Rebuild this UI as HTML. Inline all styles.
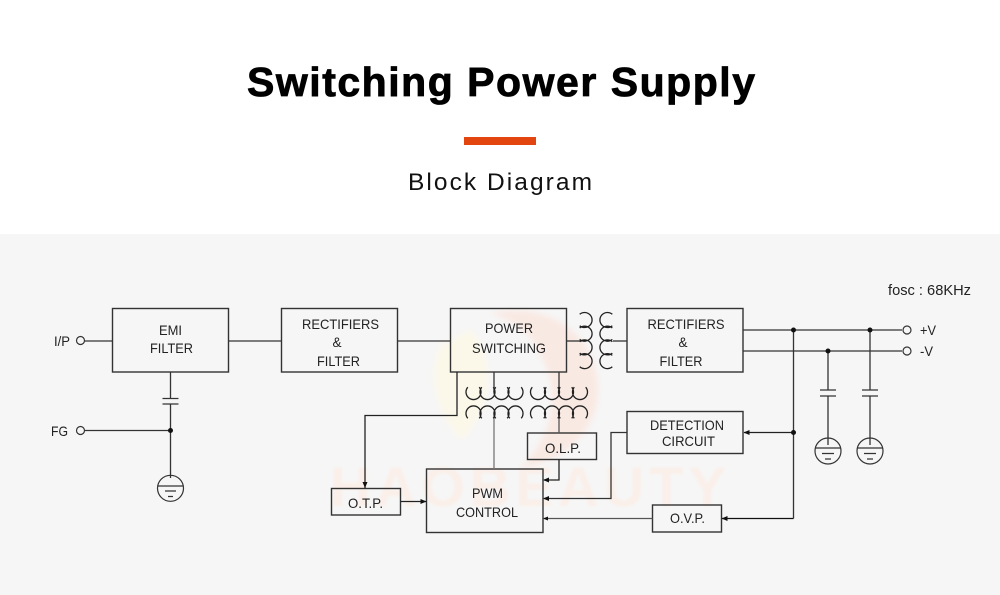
<!DOCTYPE html>
<html>
<head>
<meta charset="utf-8">
<style>
html,body{margin:0;padding:0;background:#fff}
svg{display:block}
text{font-family:"Liberation Sans",sans-serif}
.l{font-size:14px;fill:#222;text-anchor:middle}
.w{fill:none;stroke:#333;stroke-width:1.3}
.t{fill:none;stroke:#222;stroke-width:1.3}
.b{fill:none;stroke:#333;stroke-width:1.4}
</style>
</head>
<body>
<svg width="1000" height="595" viewBox="0 0 1000 595" xmlns="http://www.w3.org/2000/svg">
<defs>
<filter id="bl" x="-10%" y="-10%" width="120%" height="120%"><feGaussianBlur stdDeviation="1.2"/></filter>
<filter id="bl2" x="-20%" y="-20%" width="140%" height="140%"><feGaussianBlur stdDeviation="3"/></filter>
</defs>
<rect width="1000" height="595" fill="#fff"/>
<rect y="234" width="1000" height="361" fill="#f6f6f6"/>

<text x="247" y="96" font-size="41" font-weight="700" fill="#000" stroke="#000" stroke-width="0.8" textLength="508" lengthAdjust="spacing">Switching Power Supply</text>
<rect x="464" y="137" width="72" height="8" fill="#e2450f"/>
<text x="408" y="190" font-size="24.5" fill="#111" textLength="184" lengthAdjust="spacing">Block Diagram</text>

<!-- watermark -->
<g filter="url(#bl2)">
<path d="M512 310C565 310 598 345 598 390C598 430 565 462 520 468C550 440 560 400 545 365C535 340 525 325 490 313Z" fill="#f9e9e3"/>
<path d="M470 330C490 345 500 400 462 440C440 420 425 380 440 345Z" fill="#fbf8ea"/>
</g>
<text x="330" y="506" font-size="56" font-weight="700" fill="#faefe9" filter="url(#bl)" textLength="396" lengthAdjust="spacing">HAOBEAUTY</text>

<!-- boxes -->
<rect class="b" x="112.5" y="308.5" width="116" height="63.5"/>
<rect class="b" x="281.5" y="308.5" width="116" height="63.5"/>
<rect class="b" x="450.5" y="308.5" width="116" height="63.5"/>
<rect class="b" x="627" y="308.5" width="116" height="63.5"/>
<rect class="b" x="627" y="411.5" width="116" height="42"/>
<rect class="b" x="527.5" y="433" width="69" height="26.5"/>
<rect class="b" x="426.5" y="469" width="116.5" height="63.5"/>
<rect class="b" x="331.5" y="488.5" width="69" height="26.5"/>
<rect class="b" x="652.5" y="505" width="69" height="27"/>

<!-- wires -->
<g class="w">
<path d="M85 341H112.5"/>
<path d="M228.5 341H281.5"/>
<path d="M397.5 341H450.5"/>
<path d="M566.5 341H582"/>
<path d="M613 341H627"/>
<path d="M170.5 372V398.5M170.5 404V478"/>
<path d="M162.5 398.5H178.5M162.5 404H178.5"/>
<path d="M85 430.5H170.5"/>
<path d="M743 330H902M743 351H902"/>
<path d="M793.5 330V518.5"/>
<path d="M828 351V390M828 396V445"/>
<path d="M870 330V390M870 396V445"/>
<path d="M820 390H836M820 396H836M862 390H878M862 396H878"/>
<path d="M744 432.5H793.5" stroke="#222"/>
<path d="M722 518.5H793.5" stroke="#111"/>
<path d="M457 372V415.5H365V488" stroke="#222"/>
<path d="M494 372V392"/>
<path d="M559 372V392"/>
<path d="M494 412V469" stroke="#777"/>
<path d="M559 412V433" stroke="#555"/>
<path d="M559 459.5V480H544" stroke="#222"/>
<path d="M627 432.5H611V498.5H544" stroke="#333"/>
<path d="M652.5 518.5H544" stroke="#555"/>
<path d="M400.5 501.5H426" stroke="#222"/>
</g>

<!-- arrowheads -->
<g fill="#111">
<path d="M365 488l-2.5-6h5z"/>
<path d="M426.5 501.5l-6-2.5v5z"/>
<path d="M543 480l6-2.5v5z"/>
<path d="M543 498.5l6-2.5v5z"/>
<path d="M543 518.5l5-2v4z"/>
<path d="M743.5 432.5l6-2.5v5z"/>
<path d="M721.5 518.5l6-2.5v5z"/>
</g>

<!-- dots -->
<g fill="#111">
<circle cx="170.5" cy="430.5" r="2.5"/>
<circle cx="793.5" cy="330" r="2.5"/>
<circle cx="870" cy="330" r="2.5"/>
<circle cx="828" cy="351" r="2.5"/>
<circle cx="793.5" cy="432.5" r="2.5"/>
</g>

<!-- terminals -->
<g fill="#f6f6f6" stroke="#333" stroke-width="1.2">
<circle cx="80.5" cy="340.5" r="4"/>
<circle cx="80.5" cy="430.5" r="4"/>
<circle cx="907" cy="330" r="4"/>
<circle cx="907" cy="351" r="4"/>
</g>

<!-- grounds -->
<g fill="none" stroke="#333" stroke-width="1.2">
<circle cx="170.5" cy="488.3" r="13"/>
<path d="M158 486H183M165 491H176M168 496.5H173"/>
<circle cx="828" cy="451" r="13"/>
<path d="M815.5 448H840.5M822 453.5H834M825 459H831"/>
<circle cx="870" cy="451" r="13"/>
<path d="M857.5 448H882.5M864 453.5H876M867 459H873"/>
</g>

<!-- transformer windings -->
<g class="t">
<path d="M579.7 314.3A7.5 7.5 0 1 1 579.7 325.7M579.7 328A7.5 7.5 0 1 1 579.7 339.4M579.7 341.7A7.5 7.5 0 1 1 579.7 353.1M579.7 355.4A7.5 7.5 0 1 1 579.7 366.8"/>
<path d="M612.3 314.3A7.5 7.5 0 1 0 612.3 325.7M612.3 328A7.5 7.5 0 1 0 612.3 339.4M612.3 341.7A7.5 7.5 0 1 0 612.3 353.1M612.3 355.4A7.5 7.5 0 1 0 612.3 366.8"/>

<path d="M467.8 387.2A7.5 7.5 0 1 0 479.2 387.2M481.8 387.2A7.5 7.5 0 1 0 493.2 387.2M495.8 387.2A7.5 7.5 0 1 0 507.2 387.2M509.8 387.2A7.5 7.5 0 1 0 521.2 387.2"/>
<path d="M532.3 387.2A7.5 7.5 0 1 0 543.7 387.2M546.3 387.2A7.5 7.5 0 1 0 557.7 387.2M560.3 387.2A7.5 7.5 0 1 0 571.7 387.2M574.3 387.2A7.5 7.5 0 1 0 585.7 387.2"/>

<path d="M467.8 418.3A7.5 7.5 0 1 1 479.2 418.3M481.8 418.3A7.5 7.5 0 1 1 493.2 418.3M495.8 418.3A7.5 7.5 0 1 1 507.2 418.3M509.8 418.3A7.5 7.5 0 1 1 521.2 418.3"/>
<path d="M532.3 418.3A7.5 7.5 0 1 1 543.7 418.3M546.3 418.3A7.5 7.5 0 1 1 557.7 418.3M560.3 418.3A7.5 7.5 0 1 1 571.7 418.3M574.3 418.3A7.5 7.5 0 1 1 585.7 418.3"/>
</g>

<!-- labels -->
<g lengthAdjust="spacingAndGlyphs">
<text class="l" x="170.5" y="335" textLength="23" lengthAdjust="spacingAndGlyphs">EMI</text>
<text class="l" x="171.5" y="353" textLength="43" lengthAdjust="spacingAndGlyphs">FILTER</text>
<text class="l" x="340.5" y="329" textLength="77" lengthAdjust="spacingAndGlyphs">RECTIFIERS</text>
<text class="l" x="337" y="347" textLength="9" lengthAdjust="spacingAndGlyphs">&amp;</text>
<text class="l" x="338.5" y="366" textLength="43" lengthAdjust="spacingAndGlyphs">FILTER</text>
<text class="l" x="509" y="333" textLength="48" lengthAdjust="spacingAndGlyphs">POWER</text>
<text class="l" x="509" y="353" textLength="74" lengthAdjust="spacingAndGlyphs">SWITCHING</text>
<text class="l" x="686" y="329" textLength="77" lengthAdjust="spacingAndGlyphs">RECTIFIERS</text>
<text class="l" x="683" y="347" textLength="9" lengthAdjust="spacingAndGlyphs">&amp;</text>
<text class="l" x="681" y="366" textLength="43" lengthAdjust="spacingAndGlyphs">FILTER</text>
<text class="l" x="687" y="430" textLength="74" lengthAdjust="spacingAndGlyphs">DETECTION</text>
<text class="l" x="688.5" y="446" textLength="53" lengthAdjust="spacingAndGlyphs">CIRCUIT</text>
<text class="l" x="563" y="453" textLength="36" lengthAdjust="spacingAndGlyphs">O.L.P.</text>
<text class="l" x="487.5" y="498" textLength="31" lengthAdjust="spacingAndGlyphs">PWM</text>
<text class="l" x="487" y="517" textLength="62" lengthAdjust="spacingAndGlyphs">CONTROL</text>
<text class="l" x="365.5" y="508" textLength="35" lengthAdjust="spacingAndGlyphs">O.T.P.</text>
<text class="l" x="687.5" y="523" textLength="35" lengthAdjust="spacingAndGlyphs">O.V.P.</text>
<text class="l" x="62" y="346" textLength="16" lengthAdjust="spacingAndGlyphs">I/P</text>
<text class="l" x="59.5" y="436" textLength="17" lengthAdjust="spacingAndGlyphs">FG</text>
<text class="l" x="928" y="335" textLength="16" lengthAdjust="spacingAndGlyphs">+V</text>
<text class="l" x="926.5" y="356" textLength="13" lengthAdjust="spacingAndGlyphs">-V</text>
</g>
<text x="888" y="295" font-size="15" fill="#222" textLength="83" lengthAdjust="spacingAndGlyphs">fosc : 68KHz</text>
</svg>
</body>
</html>
